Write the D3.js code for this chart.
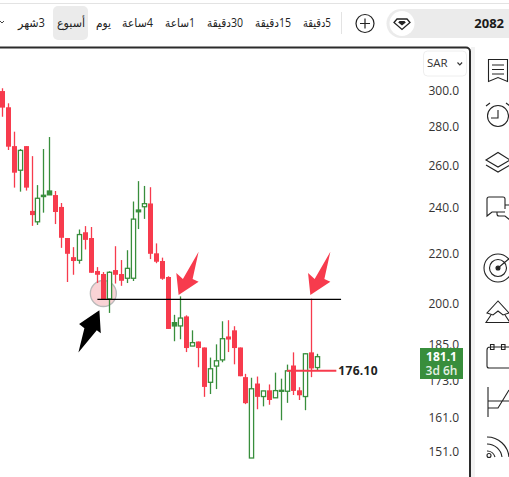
<!DOCTYPE html>
<html><head><meta charset="utf-8">
<script src="https://cdn.jsdelivr.net/npm/d3@7/dist/d3.min.js"></script>
<style>html,body{margin:0;padding:0;background:#fff;overflow:hidden}svg{display:block}
text{font-family:"Open Sans","DejaVu Sans",sans-serif}</style></head><body>
<svg id="c" width="509" height="477"></svg>
<script>
const opens=[299.8,290.7,270.0,257.9,270.0,238.7,233.8,245.3,246.1,246.0,240.5,226.7,218.6,217.3,229.2,226.7,212.9,211.7,201.9,213.3,211.7,210.0,210.0,238.3,240.6,242.1,220.2,217.0,210.5,191.8,191.8,195.3,184.6,186.2,184.1,172.3,177.7,179.8,188.0,190.2,184.1,174.0,149.2,171.9,167.7,169.7,167.3,169.5,169.4,177.9,169.7,167.7,182.4,177.2];
const highs=[301.4,292.9,277.5,268.5,270.0,264.9,250.7,268.5,274.7,247.9,242.3,226.7,222.8,230.4,231.9,231.5,214.5,212.5,212.8,223.2,217.4,221.5,243.0,252.6,250.3,249.7,224.4,218.4,210.8,195.9,202.9,195.7,190.2,186.2,184.1,180.6,185.2,193.5,193.9,191.7,184.1,175.1,173.8,174.2,169.5,171.6,175.5,173.5,178.2,182.4,170.7,182.1,202.0,181.9];
const lows=[285.5,268.0,249.5,247.6,248.1,232.0,232.4,237.9,246.1,232.8,222.5,208.5,211.4,215.9,221.8,212.2,208.1,201.7,196.6,207.9,207.0,208.1,208.9,230.6,235.1,217.8,216.1,209.4,190.7,186.3,187.0,182.5,184.6,177.3,167.6,168.5,170.1,179.0,182.5,178.3,174.3,165.3,149.2,163.7,164.6,165.1,167.3,160.3,165.7,168.2,166.6,163.4,174.0,176.2];
const closes=[290.5,269.7,256.7,267.8,249.5,236.8,244.5,245.9,247.9,238.2,226.8,220.0,217.0,228.2,225.9,212.2,211.4,201.7,212.4,211.4,209.0,214.0,235.0,239.1,242.0,220.0,216.7,209.8,190.7,193.0,194.7,183.9,185.8,183.9,170.8,176.8,179.5,187.2,186.9,183.9,174.3,165.6,170.2,167.6,169.5,166.6,169.6,169.7,176.1,169.5,168.1,181.9,176.9,180.9];
const solidCandles=[7,8,23,29,47];
const priceTicks=[300,280,260,240,220,200,185,173,161,151];
const timeframes=["3شهر","أسبوع","يوم","4ساعة","1ساعة","30دقيقة","15دقيقة","5دقيقة"];
const tfRight=[45,85,111,153,195,243,291,331];
const tfWidth=[27,28,15,31,30,36,36,28];
const supportLine=201.7, lastLine=176.1, lastPrice=181.1, supportFrom=16, supportTo=57, lastFrom=47.9, lastTo=56.2;

const svg=d3.select("#c");
const x=d3.scaleLinear().domain([0,53]).range([2.3,317.3]);
const y=d3.scaleLog().domain([151,300]).range([451.7,90.7]);
const RED="#f73b4d",GREEN="#388e3c",INK="#222";
const idx=d3.range(opens.length);
const px=i=>Math.floor(x(i))+0.5;

const g=svg.append("g").attr("id","plot");
g.append("circle").attr("cx",x(17)).attr("cy",y(204)).attr("r",13).attr("fill","#f9d3d5").attr("stroke","#b9b9b9").attr("stroke-width",1.3);

const c=g.selectAll("g.k").data(idx).join("g").attr("class","k");
c.append("line").attr("x1",px).attr("x2",px).attr("y1",i=>y(highs[i])).attr("y2",i=>y(lows[i]))
 .attr("stroke",i=>closes[i]>opens[i]?GREEN:RED).attr("stroke-width",1.3);
c.append("rect").attr("x",i=>px(i)-(closes[i]>opens[i]?2.1:2.5)).attr("width",i=>closes[i]>opens[i]?4.2:5)
 .attr("y",i=>y(Math.max(opens[i],closes[i])))
 .attr("height",i=>Math.max(1,y(Math.min(opens[i],closes[i]))-y(Math.max(opens[i],closes[i]))))
 .attr("fill",i=>closes[i]>opens[i]?(solidCandles.includes(i)?GREEN:"#fff"):RED)
 .attr("stroke",i=>closes[i]>opens[i]?GREEN:"none").attr("stroke-width",1.3);

g.append("line").attr("x1",x(supportFrom)).attr("x2",x(supportTo)).attr("y1",y(supportLine)).attr("y2",y(supportLine)).attr("stroke","#000").attr("stroke-width",1.2);
g.append("line").attr("x1",x(lastFrom)).attr("x2",x(lastTo)).attr("y1",y(lastLine)).attr("y2",y(lastLine)).attr("stroke",RED).attr("stroke-width",2);
g.append("text").attr("x",x(lastTo)+2).attr("y",y(lastLine)).attr("dy","0.35em").attr("font-size",12).attr("font-weight",700).attr("fill",INK).attr("letter-spacing",0.3).text("176.10");

const redArrow="M0,0L-2.3,-22L4.3,-16L20,-43.3L14,-16L20,-13.3Z";
const blackArrow="M0,0L-20.3,13.7L-15,18L-21,42.3L-2.6,20L1.4,23Z";
g.append("path").attr("d",redArrow).attr("fill",RED).attr("transform",`translate(${x(30)-2},${y(203.4)})`);
g.append("path").attr("d",redArrow).attr("fill",RED).attr("transform",`translate(${x(52)-1},${y(203.4)})`);
g.append("path").attr("d",blackArrow).attr("fill","#000").attr("transform",`translate(${x(16)+2},${y(197.6)})`);

const axis=d3.axisRight(y).tickValues(priceTicks).tickSize(0).tickPadding(0).tickFormat(d3.format(".1f"));
const ax=svg.append("g").attr("transform","translate(428.5,0)").call(axis);
ax.select(".domain").remove();
ax.selectAll("text").attr("font-size",12).attr("fill","#333").attr("font-family","'Open Sans',sans-serif");

svg.append("rect").attr("x",420).attr("y",348).attr("width",43).attr("height",31).attr("fill",GREEN);
svg.append("text").attr("x",441.5).attr("y",357).attr("dy","0.35em").attr("text-anchor","middle").attr("font-size",12).attr("font-weight",700).attr("fill","#fff").text(lastPrice.toFixed(1));
svg.append("text").attr("x",441.5).attr("y",371).attr("dy","0.35em").attr("text-anchor","middle").attr("font-size",12).attr("font-weight",600).attr("fill","#e4f1e4").text("3d 6h");

svg.append("rect").attr("x",423.5).attr("y",51).attr("width",43).attr("height",25).attr("rx",4).attr("fill","#fff").attr("stroke","#eee");
svg.append("text").attr("x",427).attr("y",63).attr("dy","0.35em").attr("font-size",11.5).attr("fill","#333").text("SAR");
svg.append("path").attr("d","M457.5,62.5l2.3,2.3l2.3,-2.3").attr("fill","none").attr("stroke","#333").attr("stroke-width",1.2);

svg.append("rect").attr("x",471).attr("y",47).attr("width",4).attr("height",430).attr("fill","#f2f2f2");
svg.append("path").attr("d","M0,47.5H466a4,4 0 0 1 4,4V477").attr("fill","none").attr("stroke","#2b2b2b").attr("stroke-width",2);

svg.append("rect").attr("x",0).attr("y",3).attr("width",509).attr("height",1).attr("fill","#e3e3e3");
svg.append("rect").attr("x",53).attr("y",6).attr("width",35).attr("height",34).attr("rx",5).attr("fill","#ebebeb");
svg.selectAll("text.tf").data(timeframes).join("text").attr("class","tf")
 .attr("x",(d,i)=>tfRight[i]).attr("y",23).attr("dy","0.35em").attr("text-anchor","start").attr("direction","rtl")
 .attr("font-size",12).attr("fill","#222").attr("font-family","'DejaVu Sans',sans-serif")
 .attr("textLength",(d,i)=>tfWidth[i]).attr("lengthAdjust","spacingAndGlyphs").text(d=>d);
svg.append("path").attr("d","M0,21l2,2l2,-2").attr("fill","none").attr("stroke","#444");
svg.append("rect").attr("x",341).attr("y",12).attr("width",1).attr("height",22).attr("fill","#e3e3e3");
svg.append("circle").attr("cx",365).attr("cy",23.5).attr("r",9).attr("fill","none").attr("stroke","#222").attr("stroke-width",1.2);
svg.append("path").attr("d","M360,23.5h10M365,18.5v10").attr("stroke","#222").attr("stroke-width",1.2);
svg.append("path").attr("d","M401,9H509V38H401a14.5,14.5 0 0 1 0,-29Z").attr("fill","#ebebeb");
svg.append("circle").attr("cx",402).attr("cy",23.5).attr("r",12.5).attr("fill","#fff");
svg.append("path").attr("d","M397,19h10l3,3.5l-8,7l-8,-7Z").attr("fill","none").attr("stroke","#222").attr("stroke-width",1.3);
svg.append("path").attr("d","M399.5,21h5l1.3,1.5l-3.8,3l-3.8,-3Z").attr("fill","#222");
svg.append("text").attr("x",504).attr("y",23).attr("dy","0.35em").attr("text-anchor","end").attr("font-size",13).attr("font-weight",700).attr("fill","#1a1a1a").text("2082");

const ic=svg.append("g").attr("fill","none").attr("stroke","#222").attr("stroke-width",1.1);
ic.append("path").attr("d","M488.5,59.5H507.5V81.5L498,77.5L488.5,81.5ZM492,65H504M492,69.5H504M492,74H504");
ic.append("circle").attr("cx",498).attr("cy",116).attr("r",10.5);
ic.append("path").attr("d","M498,110V118H491M486,106l4,-3M510,106l-4,-3");
ic.append("path").attr("d","M486,160L498,152.5L510,160L498,167ZM486,165L498,172L510,165");
ic.append("path").attr("d","M505,209V199a2,2 0 0 0 -2,-2H489a2,2 0 0 0 -2,2V216L492,212H505M505,205H509M497,212V214a2,2 0 0 0 2,2H505L510,220");
ic.append("circle").attr("cx",498).attr("cy",268).attr("r",14);
ic.append("circle").attr("cx",498).attr("cy",268).attr("r",8.5);
ic.append("path").attr("d","M498,268L511,257");
ic.append("circle").attr("cx",498).attr("cy",268).attr("r",2).attr("fill","#222");
ic.append("path").attr("d","M498,301L487,313L493,315L498,311L503,315L509,313ZM491,315L486,322.5H510L505,315");
ic.append("path").attr("d","M487,350V366a2,2 0 0 0 2,2H509M487,350a3,3 0 0 1 3,-3H509M490.5,344.5h3.5v5h-3.5ZM501.5,344.5h3.5v5h-3.5Z");
ic.append("path").attr("d","M488,387V417M488,401H509M488,408H498L509,390");
ic.append("path").attr("d","M487,437a22,22 0 0 1 22,20M487,444a15,15 0 0 1 15,13M487,451a8,8 0 0 1 8,6");
ic.append("circle").attr("cx",489).attr("cy",455.5).attr("r",2);
</script></body></html>
